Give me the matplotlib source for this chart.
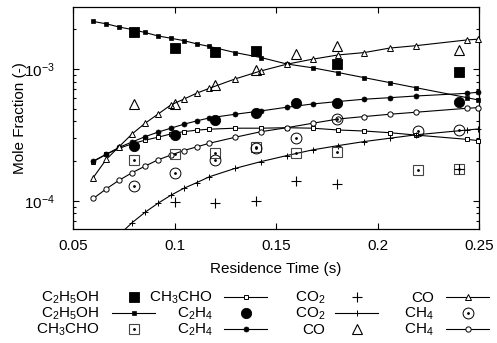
import numpy as np
import matplotlib
matplotlib.use("Agg")
import matplotlib.pyplot as plt
from matplotlib.lines import Line2D
from matplotlib.ticker import LogLocator, NullFormatter, FixedLocator

plt.rcParams["font.family"] = ["Liberation Sans", "DejaVu Sans"]
plt.rcParams["mathtext.fontset"] = "custom"
plt.rcParams["mathtext.rm"] = "Liberation Sans"
plt.rcParams["mathtext.it"] = "Liberation Sans:italic"
plt.rcParams["mathtext.bf"] = "Liberation Sans:bold"
plt.rcParams["font.size"] = 11
FS = 11

# residence times of model points and of measurements (s)
X_MODEL = [0.06, 0.0664, 0.0727, 0.0791, 0.0855, 0.0918, 0.0982, 0.1045, 0.1109, 0.1172,
           0.1299, 0.1426, 0.1553, 0.168, 0.1807, 0.1934, 0.2061, 0.2188, 0.2442, 0.2494]
X_EXP = [0.08, 0.10, 0.12, 0.14, 0.16, 0.18, 0.22, 0.24]

# model mole fractions
C2H5OH_MOD = [2.29e-3, 2.20e-3, 2.08e-3, 1.99e-3, 1.89e-3, 1.78e-3, 1.71e-3, 1.64e-3, 1.55e-3, 1.48e-3,
              1.33e-3, 1.22e-3, 1.09e-3, 1.02e-3, 9.38e-4, 8.59e-4, 7.87e-4, 7.21e-4, 6.05e-4, 5.82e-4]
CH3CHO_MOD = [1.98e-4, 2.25e-4, 2.50e-4, 2.70e-4, 2.88e-4, 3.03e-4, 3.21e-4, 3.34e-4, 3.43e-4, 3.49e-4,
              3.55e-4, 3.55e-4, 3.58e-4, 3.55e-4, 3.44e-4, 3.38e-4, 3.28e-4, 3.15e-4, 2.92e-4, 2.86e-4]
C2H4_MOD = [2.00e-4, 2.25e-4, 2.54e-4, 2.79e-4, 3.06e-4, 3.31e-4, 3.55e-4, 3.80e-4, 4.03e-4, 4.25e-4,
            4.53e-4, 4.80e-4, 5.12e-4, 5.42e-4, 5.66e-4, 5.89e-4, 6.05e-4, 6.23e-4, 6.53e-4, 6.65e-4]
CO2_MOD = [np.nan, np.nan, 5.5e-5, 6.81e-5, 8.17e-5, 9.55e-5, 1.10e-4, 1.24e-4, 1.37e-4, 1.52e-4,
           1.76e-4, 1.98e-4, 2.20e-4, 2.43e-4, 2.62e-4, 2.81e-4, 2.98e-4, 3.16e-4, 3.44e-4, 3.50e-4]
CO_MOD = [1.50e-4, 2.06e-4, 2.57e-4, 3.21e-4, 3.87e-4, 4.53e-4, 5.33e-4, 5.89e-4, 6.54e-4, 7.13e-4,
          8.40e-4, 9.66e-4, 1.086e-3, 1.185e-3, 1.277e-3, 1.33e-3, 1.44e-3, 1.50e-3, 1.66e-3, 1.68e-3]
CH4_MOD = [1.04e-4, 1.23e-4, 1.43e-4, 1.63e-4, 1.83e-4, 2.04e-4, 2.22e-4, 2.40e-4, 2.56e-4, 2.73e-4,
           3.03e-4, 3.34e-4, 3.58e-4, 3.87e-4, 4.17e-4, 4.35e-4, 4.53e-4, 4.69e-4, 5.03e-4, 5.08e-4]

# measured mole fractions
C2H5OH_EXP = [1.92e-3, 1.45e-3, 1.35e-3, 1.37e-3, np.nan, 1.09e-3, np.nan, 9.4e-4]
CH3CHO_EXP = [2.04e-4, 2.26e-4, 2.29e-4, 2.57e-4, 2.29e-4, 2.33e-4, 1.71e-4, 1.73e-4]
C2H4_EXP = [2.58e-4, 3.13e-4, 4.12e-4, 4.66e-4, 5.49e-4, 5.52e-4, np.nan, 5.6e-4]
CO2_EXP = [np.nan, 9.7e-5, 9.6e-5, 1.0e-4, 1.42e-4, 1.34e-4, np.nan, 1.73e-4]
CO_EXP = [5.38e-4, 5.38e-4, 7.56e-4, 9.8e-4, 1.30e-3, 1.50e-3, np.nan, 1.40e-3]
CH4_EXP = [1.29e-4, 1.63e-4, 2.05e-4, 2.50e-4, 3.0e-4, 4.17e-4, 3.38e-4, 3.44e-4]

YMIN, YMAX = 6.1e-5, 2.95e-3
GREY = "#444444"

EXP_STYLE = {
    "C2H5OH": dict(marker="s", ms=7.2, mfc="black", mec="black", mew=0.6),
    "CH3CHO": dict(marker="s", ms=7.6, mfc="none", mec=GREY, mew=0.8),
    "C2H4": dict(marker="o", ms=7.4, mfc="black", mec="black", mew=0.6),
    "CO2": dict(marker="+", ms=7.6, mec="black", mew=0.8),
    "CO": dict(marker="^", ms=7.6, mfc="none", mec="black", mew=0.8),
    "CH4": dict(marker="o", ms=7.8, mfc="none", mec="black", mew=0.7),
}
MOD_STYLE = {
    "C2H5OH": dict(marker="s", ms=3.4, mfc="black", mec="black", mew=0.5),
    "CH3CHO": dict(marker="s", ms=3.4, mfc="white", mec="black", mew=0.7),
    "C2H4": dict(marker="o", ms=3.6, mfc="black", mec="black", mew=0.5),
    "CO2": dict(marker="+", ms=3.8, mec="black", mew=0.7),
    "CO": dict(marker="^", ms=3.8, mfc="white", mec="black", mew=0.7),
    "CH4": dict(marker="o", ms=3.8, mfc="white", mec="black", mew=0.7),
}
DOTTED = ("CH3CHO", "CH4")
LABELS = {
    "C2H5OH": r"$\mathregular{C_2H_5OH}$",
    "CH3CHO": r"$\mathregular{CH_3CHO}$",
    "C2H4": r"$\mathregular{C_2H_4}$",
    "CO2": r"$\mathregular{CO_2}$",
    "CO": "CO",
    "CH4": r"$\mathregular{CH_4}$",
}

models = {"C2H5OH": C2H5OH_MOD, "CH3CHO": CH3CHO_MOD, "C2H4": C2H4_MOD,
          "CO2": CO2_MOD, "CO": CO_MOD, "CH4": CH4_MOD}
exps = {"C2H5OH": C2H5OH_EXP, "CH3CHO": CH3CHO_EXP, "C2H4": C2H4_EXP,
        "CO2": CO2_EXP, "CO": CO_EXP, "CH4": CH4_EXP}

fig = plt.figure(figsize=(4.97, 3.43), dpi=100)
ax = fig.add_axes([73 / 497, 1 - 229 / 343, 406 / 497, 222 / 343])

xm = np.array(X_MODEL)
xe = np.array(X_EXP)
for name, vals in models.items():
    y = np.array(vals, dtype=float)
    ax.plot(xm, y, color="black", lw=0.8, zorder=2)
    inside = y >= YMIN
    ax.plot(xm[inside], y[inside], ls="none", clip_on=False, zorder=3, **MOD_STYLE[name])

for name, vals in exps.items():
    y = np.array(vals, dtype=float)
    ax.plot(xe, y, ls="none", clip_on=False, zorder=4, **EXP_STYLE[name])
    if name in DOTTED:
        ax.plot(xe, y, ls="none", marker="o", ms=1.0, color="black", zorder=5)

ax.set_yscale("log")
ax.set_xlim(0.05, 0.25)
ax.set_ylim(YMIN, YMAX)
ax.xaxis.set_major_locator(FixedLocator([0.05, 0.1, 0.15, 0.2, 0.25]))
ax.set_xticklabels(["0.05", "0.1", "0.15", "0.2", "0.25"])
ax.yaxis.set_major_locator(LogLocator(base=10))
ax.yaxis.set_minor_locator(LogLocator(base=10, subs=np.arange(2, 10)))
ax.yaxis.set_minor_formatter(NullFormatter())
ax.tick_params(which="both", direction="in", top=True, right=True, width=0.8)
ax.tick_params(which="major", length=4.3)
ax.tick_params(which="minor", length=2.4)
ax.tick_params(axis="x", which="major", pad=7.5, labelsize=FS)
ax.tick_params(axis="y", which="major", pad=13, labelsize=FS)
for sp in ax.spines.values():
    sp.set_linewidth(0.9)

ax.set_xlabel("Residence Time (s)", fontsize=FS)
ax.xaxis.set_label_coords(0.5, -(262 - 229) / 222)
ax.set_ylabel("Mole Fraction (-)", fontsize=FS)
ax.yaxis.set_label_coords(-(73 - 27) / 406, 0.5)

# key below the plot, gnuplot style: label first, sample after
col_text = [100, 213, 325, 434]
col_sample = [133.5, 245.5, 356.5, 467.5]
row_y = [297, 313, 328.5]
entries = [("C2H5OH", "exp"), ("C2H5OH", "mod"), ("CH3CHO", "exp"),
           ("CH3CHO", "mod"), ("C2H4", "exp"), ("C2H4", "mod"),
           ("CO2", "exp"), ("CO2", "mod"), ("CO", "exp"),
           ("CO", "mod"), ("CH4", "exp"), ("CH4", "mod")]
W, H = 497.0, 343.0
for i, (name, kind) in enumerate(entries):
    c, r = divmod(i, 3)
    yc = row_y[r]
    fig.text(col_text[c] / W, 1 - (yc + 5) / H, LABELS[name], ha="right", va="baseline", fontsize=FS)
    xs = col_sample[c]
    fy = 1 - yc / H
    if kind == "mod":
        fig.add_artist(Line2D([(xs - 21.5) / W, (xs + 21.5) / W], [fy, fy], color="black", lw=0.8))
        fig.add_artist(Line2D([xs / W], [fy], ls="none", **MOD_STYLE[name]))
    else:
        fig.add_artist(Line2D([xs / W], [fy], ls="none", **EXP_STYLE[name]))
        if name in DOTTED:
            fig.add_artist(Line2D([xs / W], [fy], ls="none", marker="o", ms=1.0, color="black"))

fig.savefig("out.png", dpi=100)
